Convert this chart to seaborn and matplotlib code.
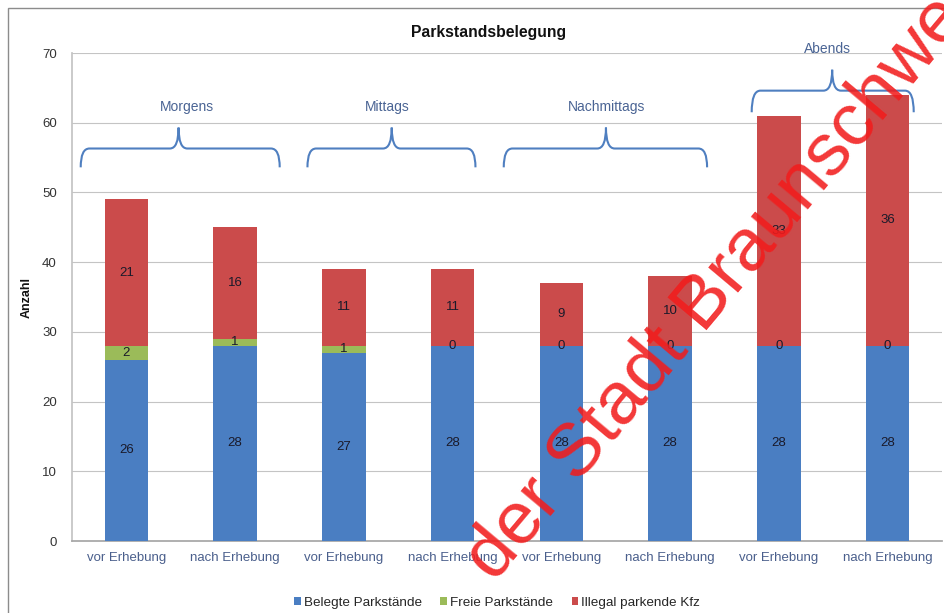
import numpy as np
import pandas as pd
import matplotlib
matplotlib.use("Agg")
import matplotlib.pyplot as plt
from matplotlib.path import Path
from matplotlib.patches import PathPatch, Patch, Rectangle
import seaborn as sns

# ---- data -------------------------------------------------------------
groups = ["Morgens", "Morgens", "Mittags", "Mittags",
          "Nachmittags", "Nachmittags", "Abends", "Abends"]
phases = ["vor Erhebung", "nach Erhebung"] * 4
belegt = [26, 28, 27, 28, 28, 28, 28, 28]
frei = [2, 1, 1, 0, 0, 0, 0, 0]
illegal = [21, 16, 11, 11, 9, 10, 33, 36]

series_names = ["Belegte Parkstände", "Freie Parkstände", "Illegal parkende Kfz"]
colors = ["#4A7EC2", "#9BBB59", "#CB4B4B"]

# brace layout per time group: label, left, right, peak x, label x, level
brace_layout = [
    ("Morgens", -0.42, 1.41, 0.48, 0.56, "low"),
    ("Mittags", 1.665, 3.21, 2.44, 2.40, "low"),
    ("Nachmittags", 3.47, 5.34, 4.41, 4.42, "low"),
    ("Abends", 5.75, 7.24, 6.49, 6.45, "high"),
]
levels = {"low": (53.6, 56.3, 59.3, 62.3), "high": (61.5, 64.6, 67.6, 70.6)}

slots = [f"{g} {p}" for g, p in zip(groups, phases)]
df = pd.DataFrame({"slot": slots, "belegt": belegt, "frei": frei, "illegal": illegal})
df["lvl1"] = df["belegt"]
df["lvl2"] = df["belegt"] + df["frei"]
df["lvl3"] = df["lvl2"] + df["illegal"]

# ---- figure -----------------------------------------------------------
sns.set_theme(style="white")
plt.rcParams["font.family"] = ["Liberation Sans", "DejaVu Sans"]

fig = plt.figure(figsize=(9.44, 6.13), dpi=100)
ax = fig.add_axes([72 / 944, 1 - 541 / 613, 870 / 944, 488 / 613])

# stacked bars: draw cumulative totals from back to front
for col, c in zip(["lvl3", "lvl2", "lvl1"], colors[::-1]):
    sns.barplot(data=df, x="slot", y=col, color=c, width=0.4,
                saturation=1, ax=ax, zorder=3, linewidth=0)

ax.set_xlim(-0.5, 7.5)
ax.set_ylim(0, 70)
ax.set_yticks(range(0, 71, 10))
ax.set_xticks(range(8))
ax.set_xticklabels(phases, color="#4A5F8C", fontsize=9.5)
ax.set_xticks(np.arange(-0.5, 8, 1), minor=True)
ax.tick_params(axis="x", which="major", length=0, pad=8)
ax.tick_params(axis="x", which="minor", length=5, color="#A6A6A6", width=0.8, direction="out")
ax.tick_params(axis="y", length=5, color="#A6A6A6", width=0.8, direction="out",
               labelsize=9.5, labelcolor="#333333", pad=6)
ax.grid(axis="y", color="#C4C4C4", linewidth=0.8, zorder=0)
ax.set_axisbelow(True)
for s in ["top", "right"]:
    ax.spines[s].set_visible(False)
ax.spines["left"].set_color("#C4C4C4")
ax.spines["bottom"].set_color("#A6A6A6")
ax.set_xlabel("")
ax.set_ylabel("Anzahl", fontsize=9, fontweight="bold", color="#111111")
ax.yaxis.set_label_coords(-0.045, 0.5)

# segment value labels
for i in range(len(slots)):
    segs = [(0, belegt[i]), (belegt[i], frei[i]), (belegt[i] + frei[i], illegal[i])]
    for base, val in segs:
        ax.text(i, base + val / 2, f"{val}", ha="center", va="center",
                fontsize=9.5, color="#1A1A2A", zorder=5)

# curly braces over the time groups
def brace(x0, x1, xm, y_tip, y_bar, y_peak, rx=0.08):
    verts = [(x0, y_tip), (x0, y_bar), (x0 + rx, y_bar),
             (xm - rx, y_bar), (xm, y_bar), (xm, y_peak),
             (xm, y_bar), (xm + rx, y_bar),
             (x1 - rx, y_bar), (x1, y_bar), (x1, y_tip)]
    codes = [Path.MOVETO, Path.CURVE3, Path.CURVE3,
             Path.LINETO, Path.CURVE3, Path.CURVE3,
             Path.CURVE3, Path.CURVE3,
             Path.LINETO, Path.CURVE3, Path.CURVE3]
    ax.add_patch(PathPatch(Path(verts, codes), fill=False, edgecolor="#4F7FC0",
                           linewidth=1.5, clip_on=False, zorder=4))

for label, x0, x1, xm, xl, lvl in brace_layout:
    y_tip, y_bar, y_peak, y_lab = levels[lvl]
    brace(x0, x1, xm, y_tip, y_bar, y_peak)
    ax.text(xl, y_lab, label, ha="center", va="center", fontsize=10,
            color="#4A6494", clip_on=False)

# title
fig.text(489 / 944, 1 - 32 / 613, "Parkstandsbelegung", ha="center", va="center",
         fontsize=11.3, fontweight="bold", color="#111111")

# legend
handles = [Patch(facecolor=c, edgecolor="none") for c in colors]
fig.legend(handles, series_names, loc="center", bbox_to_anchor=(497 / 944, 1 - 603 / 613),
           ncol=3, frameon=False, fontsize=9.7, handlelength=0.5, handleheight=0.5,
           handletextpad=0.2, columnspacing=1.4)

# chart frame
fig.add_artist(Rectangle((8 / 944, -0.2), 1.2, (613 - 8) / 613 + 0.2,
                         transform=fig.transFigure, fill=False,
                         edgecolor="#8C8C8C", linewidth=1.0))

# ownership watermark
fig.text(495 / 944, 1 - 583 / 613, "der Stadt Braunschweig", rotation=50,
         rotation_mode="anchor", ha="left", va="baseline", fontsize=54,
         color="#F21C1C", alpha=0.88, zorder=10)

fig.savefig("out.png", dpi=100)
